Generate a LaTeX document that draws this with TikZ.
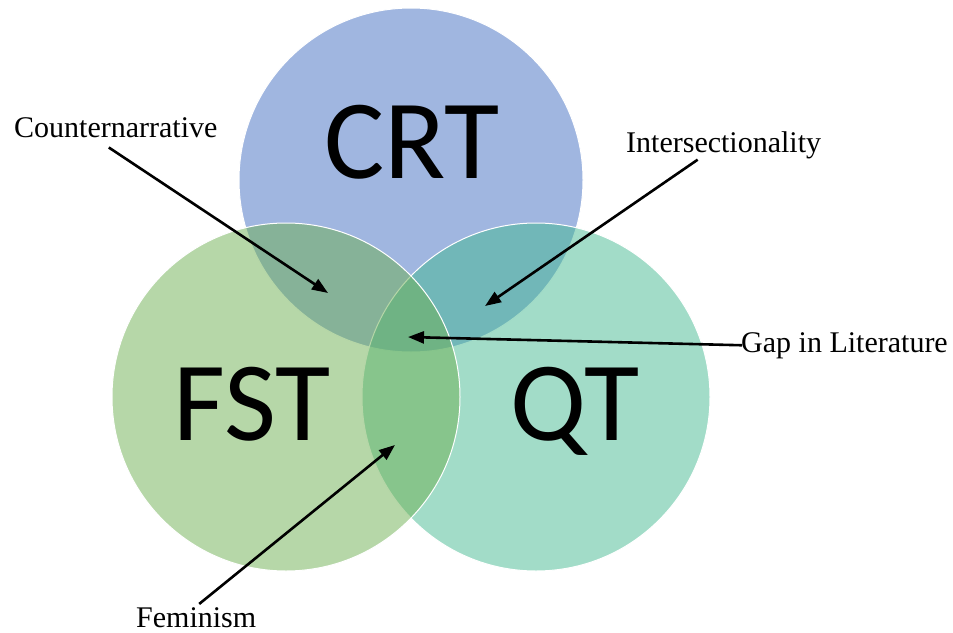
\documentclass[tikz,border=0pt]{standalone}
\usepackage{fontspec}
\setmainfont{Liberation Serif}
\newfontfamily\venfont{Carlito}
\usetikzlibrary{arrows.meta}
\definecolor{crtblue}{RGB}{65,109,193}
\definecolor{fstgreen}{RGB}{109,175,81}
\definecolor{qtgreen}{RGB}{69,185,145}

\begin{document}
\begin{tikzpicture}[x=1pt,y=-1pt,
  set/.style={draw=white, line width=1pt, fill opacity=0.5},
  setname/.style={font=\venfont\fontsize{113}{120}\selectfont, inner sep=0pt, anchor=base},
  lbl/.style={font=\fontsize{30}{34}\selectfont, inner sep=0pt, anchor=base west},
  pointer/.style={line width=2.6pt, -{Triangle[length=16pt,width=12pt]}}]
 \useasboundingbox (0,0) rectangle (953,632);
 % the three sets
 \draw[set, fill=crtblue] (411,180) circle[radius=172];
 \draw[set, fill=qtgreen] (536,397) circle[radius=174];
 \draw[set, fill=fstgreen] (286,397) circle[radius=174];
 \node[setname] (crt) at (412,178) {CRT};
 \node[setname] (fst) at (252,440) {FST};
 \node[setname] (qt) at (575,440) {QT};
 % labels
 \node[lbl] (cnt) at (14,137) {Counternarrative};
 \node[lbl] (int) at (626,152) {Intersectionality};
 \node[lbl] (gap) at (741,352) {Gap in Literature};
 \node[lbl] (fem) at (136,627) {Feminism};
 \coordinate (cnt-tip) at (328,293);
 \coordinate (int-tip) at (485,306);
 \coordinate (gap-tip) at (408,337);
 \coordinate (fem-tip) at (395,445);
 \draw[pointer] ([xshift=-7pt,yshift=-10pt]cnt.south) -- (cnt-tip);
 \draw[pointer] ([xshift=-26pt,yshift=-1pt]int.south) -- (int-tip);
 \draw[pointer] ([xshift=1pt]gap.west) -- (gap-tip);
 \draw[pointer] ([xshift=3pt,yshift=3pt]fem.north) -- (fem-tip);
\end{tikzpicture}
\end{document}
